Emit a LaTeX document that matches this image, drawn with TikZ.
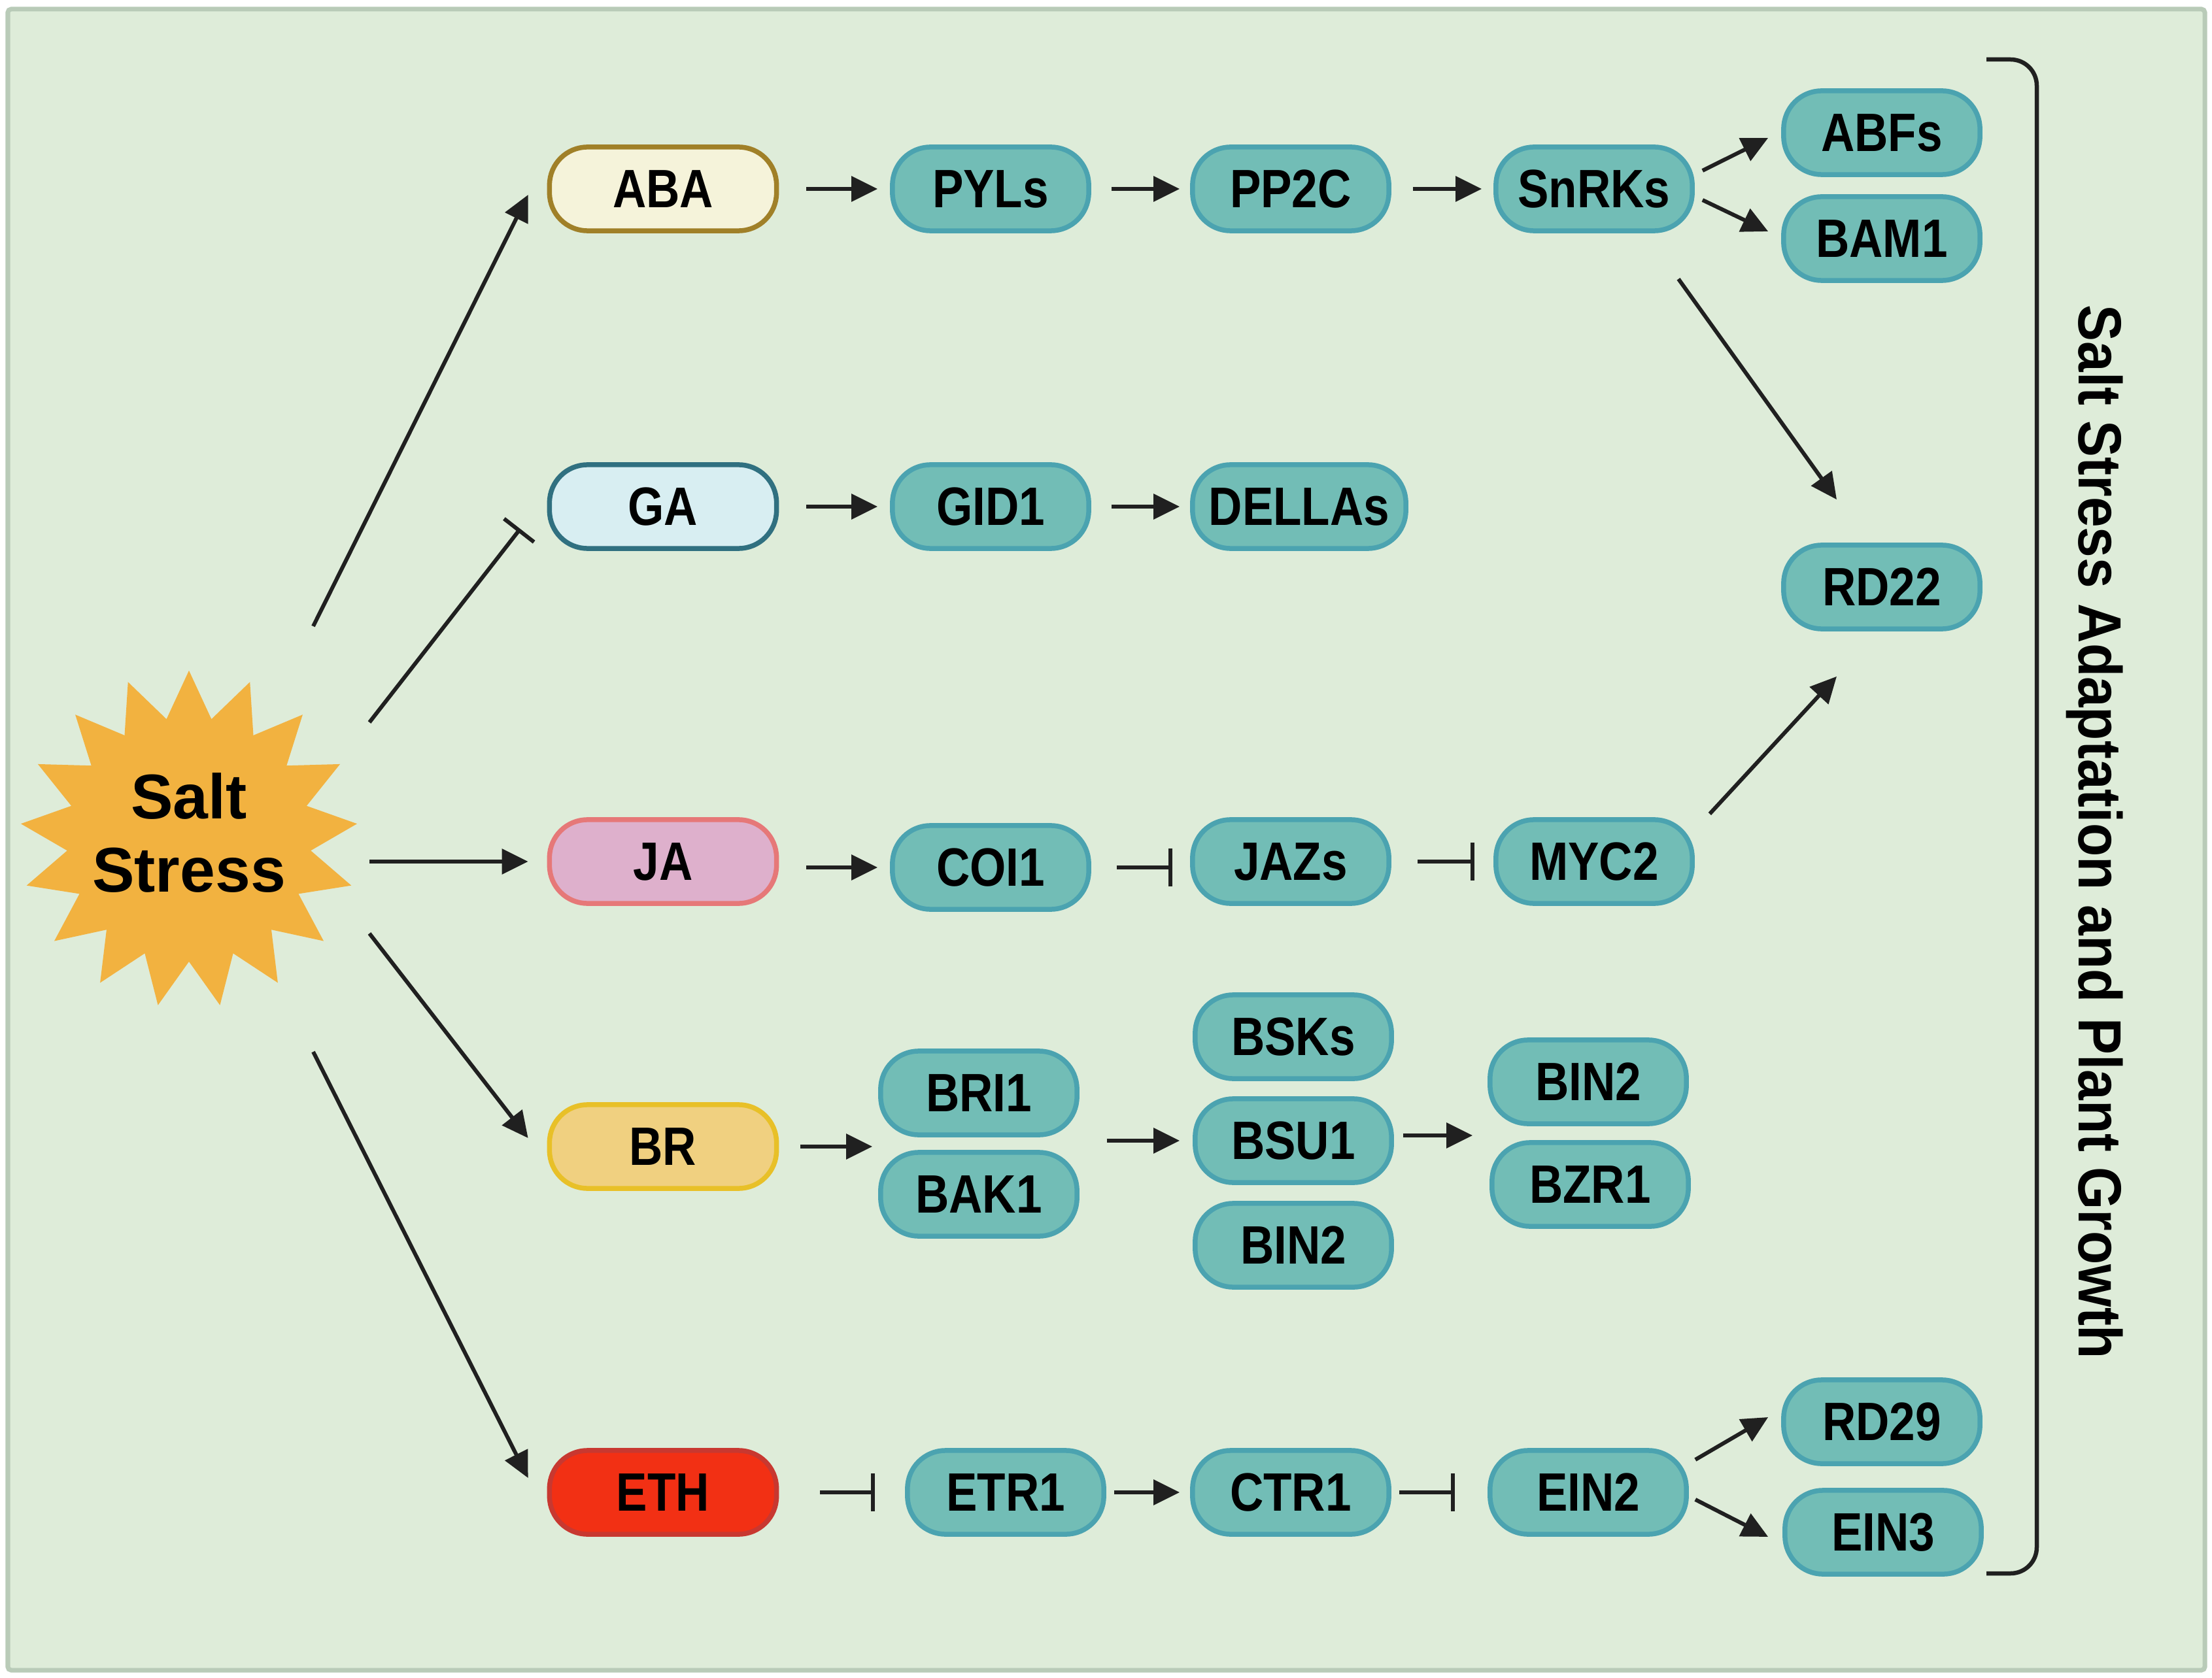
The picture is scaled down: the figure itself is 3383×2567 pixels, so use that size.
\documentclass[tikz,border=0pt]{standalone}
\usepackage{fontspec}
\setmainfont{Liberation Sans}
\newfontfamily\nfont{Liberation Sans}[FakeStretch=0.86]
\newfontfamily\tfont{Liberation Sans}[FakeStretch=0.9]
\usetikzlibrary{arrows.meta,shapes.geometric,calc}
\definecolor{bg}{HTML}{DEECD9}
\definecolor{bgborder}{HTML}{B9CBB8}
\definecolor{tealfill}{HTML}{72BDB6}
\definecolor{tealdraw}{HTML}{4BA3B0}
\definecolor{abaf}{HTML}{F5F3DA}
\definecolor{abad}{HTML}{A08028}
\definecolor{gaf}{HTML}{D8EEF2}
\definecolor{gad}{HTML}{307080}
\definecolor{jaf}{HTML}{DEB0CC}
\definecolor{jad}{HTML}{E67878}
\definecolor{brf}{HTML}{F0D080}
\definecolor{brd}{HTML}{E8C028}
\definecolor{ethf}{HTML}{F23014}
\definecolor{ethd}{HTML}{C83830}
\definecolor{starc}{HTML}{F2B240}
\definecolor{arrowc}{HTML}{202020}
\begin{document}
\begin{tikzpicture}[x=0.01cm,y=-0.01cm,
  box/.style={rounded corners=0.58cm, minimum height=1.28cm, inner sep=0pt, line width=0.075cm,
    font=\nfont\bfseries\fontsize{23.5}{27}\selectfont, text=black},
  hormone/.style={box, minimum width=3.47cm},
  teal/.style={box, minimum width=3.0cm, fill=tealfill, draw=tealdraw},
  act/.style={draw=arrowc, line width=0.06cm, -{Triangle[length=0.4cm,width=0.38cm]}},
  inh/.style={draw=arrowc, line width=0.06cm, -{Bar[width=0.58cm]}},
]
\fill[white] (0,0) rectangle (3383,2567);
\useasboundingbox (0,0) rectangle (3383,2567);
\draw[fill=bg, draw=bgborder, line width=0.07cm, rounded corners=0.05cm] (12,14) rectangle (3372,2555);

% star
\node[star, star points=17, star point ratio=1.38, minimum size=5.16cm, inner sep=0pt, fill=starc, draw=none,
  label={[font=\bfseries\fontsize{27.5}{32}\selectfont, align=center, text=black, yshift=0.1cm]center:Salt\\Stress}]
  (salt) at (289,1284) {};

% hormones
\node[hormone, fill=abaf, draw=abad] (ABA) at (1014,289) {ABA};
\node[hormone, fill=gaf, draw=gad] (GA) at (1014,775) {GA};
\node[hormone, fill=jaf, draw=jad] (JA) at (1014,1318) {JA};
\node[hormone, fill=brf, draw=brd] (BR) at (1014,1754) {BR};
\node[hormone, fill=ethf, draw=ethd] (ETH) at (1014,2283) {ETH};

% row 1
\node[teal] (PYLs) at (1515,289) {PYLs};
\node[teal] (PP2C) at (1974,289) {PP2C};
\node[teal] (SnRKs) at (2438,289) {SnRKs};
\node[teal] (ABFs) at (2878,203) {ABFs};
\node[teal] (BAM1) at (2878,365) {BAM1};
% row 2
\node[teal] (GID1) at (1515,775) {GID1};
\node[teal, minimum width=3.26cm] (DELLAs) at (1987,775) {DELLAs};
\node[teal] (RD22) at (2878,898) {RD22};
% row 3
\node[teal] (COI1) at (1515,1327) {COI1};
\node[teal] (JAZs) at (1974,1318) {JAZs};
\node[teal] (MYC2) at (2438,1318) {MYC2};
% row 4
\node[teal] (BRI1) at (1497,1672) {BRI1};
\node[teal] (BAK1) at (1497,1827) {BAK1};
\node[teal] (BSKs) at (1978,1586) {BSKs};
\node[teal] (BSU1) at (1978,1745) {BSU1};
\node[teal] (BIN2a) at (1978,1905) {BIN2};
\node[teal] (BIN2b) at (2429,1655) {BIN2};
\node[teal] (BZR1) at (2432,1812) {BZR1};
% row 5
\node[teal] (ETR1) at (1538,2283) {ETR1};
\node[teal] (CTR1) at (1974,2283) {CTR1};
\node[teal] (EIN2) at (2429,2283) {EIN2};
\node[teal] (RD29) at (2878,2175) {RD29};
\node[teal] (EIN3) at (2880,2344) {EIN3};

% title and bracket
\node[rotate=-90, font=\tfont\bfseries\fontsize{26.5}{30}\selectfont] (title) at (3204,1273)
  {Salt Stress Adaptation and Plant Growth};
\draw[arrowc, line width=0.065cm, rounded corners=0.4cm] (3038,91) -- (3115,91) -- (3115,2407) -- (3038,2407);

% star connectors
\draw[act] ($(salt)+(190,-326)$) -- ($(ABA.west)+(-29,9)$);
\draw[inh] ($(salt)+(276,-179)$) -- ($(GA.west)+(-41,34)$);
\draw[act] ($(salt)+(276,34)$) -- ($(JA.west)+(-29,0)$);
\draw[act] ($(salt)+(276,144)$) -- ($(BR.west)+(-29,-13)$);
\draw[act] ($(salt)+(190,325)$) -- ($(ETH.west)+(-29,-22)$);

% row 1 connectors
\draw[act, shorten <=0.42cm, shorten >=0.19cm] (ABA.east) -- (PYLs.west);
\draw[act, shorten <=0.31cm, shorten >=0.16cm] (PYLs.east) -- (PP2C.west);
\draw[act, shorten <=0.33cm, shorten >=0.18cm] (PP2C.east) -- (SnRKs.west);
\draw[act] ($(SnRKs.east)+(12,-28)$) -- ($(ABFs.west)+(-20,8)$);
\draw[act] ($(SnRKs.east)+(12,17)$) -- ($(BAM1.west)+(-20,-11)$);
\draw[act] ($(SnRKs.south)+(129,70)$) -- ($(RD22.north)+(-69,-66)$);
% row 2
\draw[act, shorten <=0.42cm, shorten >=0.19cm] (GA.east) -- (GID1.west);
\draw[act, shorten <=0.31cm, shorten >=0.16cm] (GID1.east) -- (DELLAs.west);
% row 3
\draw[act, shorten <=0.42cm, shorten >=0.19cm] (JA.east |- COI1) -- (COI1.west);
\draw[inh, shorten <=0.39cm, shorten >=0.27cm] (COI1.east) -- (JAZs.west |- COI1);
\draw[inh, shorten <=0.40cm, shorten >=0.29cm] (JAZs.east) -- (MYC2.west);
\draw[act] ($(MYC2.east)+(23,-73)$) -- ($(RD22.south)+(-69,69)$);
% row 4
\draw[act, shorten <=0.33cm, shorten >=0.09cm] (BR.east) -- (BR.east -| BRI1.west);
\draw[act, shorten <=0.42cm, shorten >=0.20cm] (BRI1.east |- BSU1) -- (BSU1.west);
\draw[act, shorten <=0.14cm, shorten >=0.23cm] ($(BSU1.east)+(0,-8)$) -- ($(BSU1.east -| BIN2b.west)+(0,-8)$);
% row 5
\draw[inh, shorten <=0.63cm, shorten >=0.46cm] (ETH.east) -- (ETR1.west);
\draw[act, shorten <=0.12cm, shorten >=0.16cm] (ETR1.east) -- (CTR1.west);
\draw[inh, shorten <=0.12cm, shorten >=0.50cm] (CTR1.east) -- (EIN2.west);
\draw[act] ($(EIN2.east)+(10,-50)$) -- ($(RD29.west)+(-20,-7)$);
\draw[act] ($(EIN2.east)+(10,11)$) -- ($(EIN3.west)+(-22,7)$);
\end{tikzpicture}
\end{document}
